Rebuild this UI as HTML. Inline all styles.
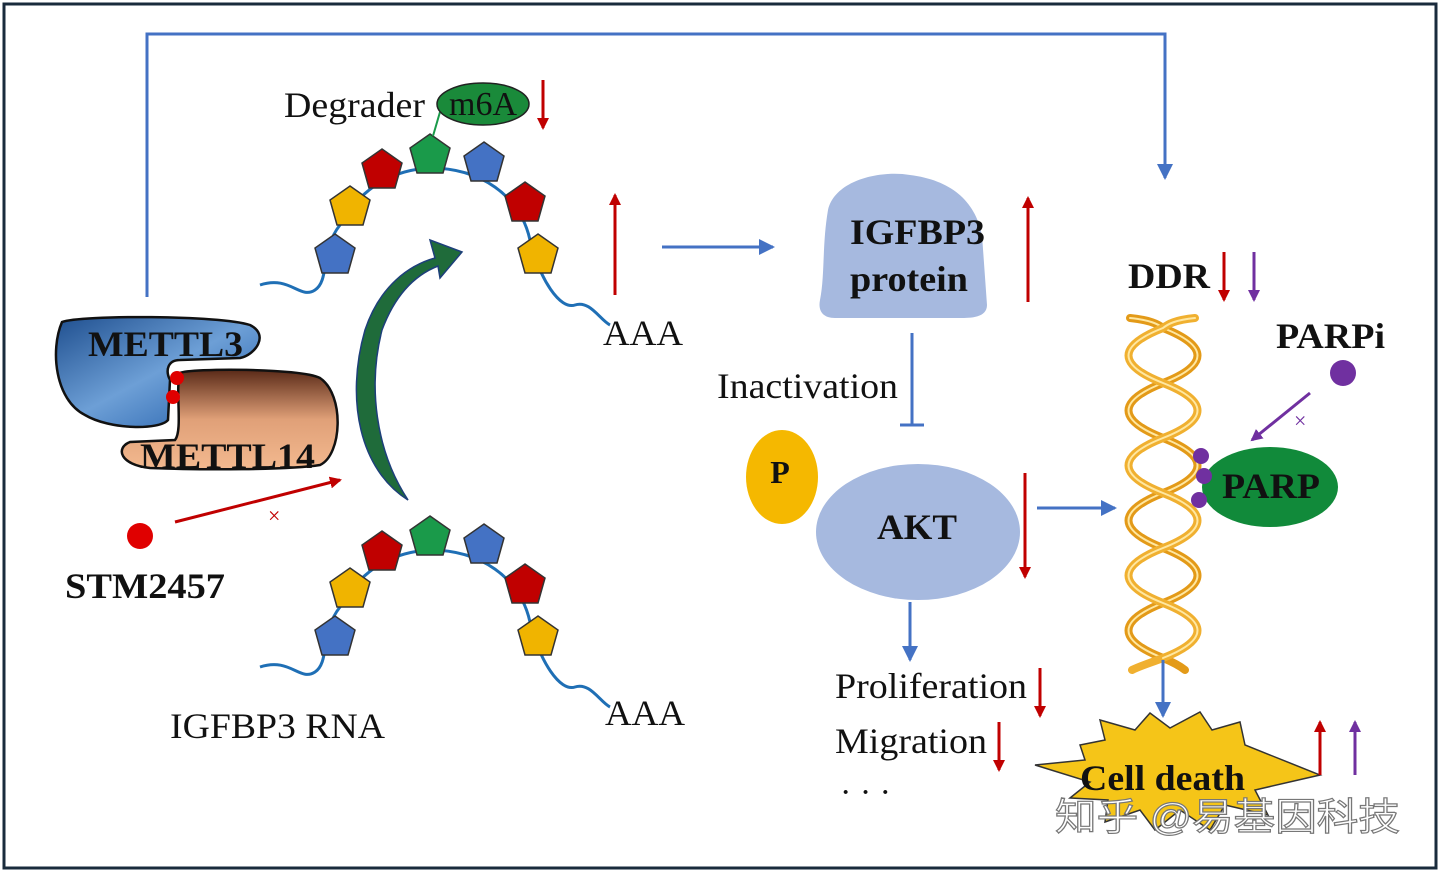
<!DOCTYPE html>
<html><head><meta charset="utf-8"><style>
html,body{margin:0;padding:0;background:#fff;}
svg{display:block}
text{font-family:"Liberation Serif",serif;}
</style></head><body>
<svg width="1440" height="873" viewBox="0 0 1440 873" xmlns="http://www.w3.org/2000/svg">
<defs>
<linearGradient id="g3" x1="0" y1="0" x2="1" y2="1"><stop offset="0" stop-color="#1f4f8f"/><stop offset="0.5" stop-color="#6d9fd6"/><stop offset="1" stop-color="#1d5aa8"/></linearGradient>
<linearGradient id="g14" x1="0" y1="0" x2="0" y2="1"><stop offset="0" stop-color="#5a2a18"/><stop offset="0.5" stop-color="#e0a078"/><stop offset="1" stop-color="#f3b98f"/></linearGradient>
<marker id="ar" markerWidth="12" markerHeight="12" refX="10" refY="6" orient="auto" markerUnits="userSpaceOnUse"><path d="M0,0 L12,6 L0,12 z" fill="#c00000"/></marker>
<marker id="ap" markerWidth="12" markerHeight="12" refX="10" refY="6" orient="auto" markerUnits="userSpaceOnUse"><path d="M0,0 L12,6 L0,12 z" fill="#7030a0"/></marker>
<marker id="ab2" markerWidth="16" markerHeight="16" refX="14" refY="8" orient="auto" markerUnits="userSpaceOnUse"><path d="M0,0 L16,8 L0,16 z" fill="#4472c4"/></marker>
<g id="pent"><polygon points="0,-21 20,-7 13,18 -13,18 -20,-7" stroke="#333" stroke-width="1.5"/></g>
</defs>
<rect x="4" y="4" width="1432" height="864" fill="#fff" stroke="#1a2b3c" stroke-width="3"/>

<polyline points="147,297 147,34 1165,34 1165,178" fill="none" stroke="#4472c4" stroke-width="3" marker-end="url(#ab2)"/>

<path d="M260,285 C290,275 300,300 315,290 C330,280 320,250 340,225 C360,190 390,170 430,168 C480,168 520,195 530,240 C540,280 560,310 575,305 C590,300 600,320 610,325" fill="none" stroke="#1f6fb5" stroke-width="3"/>
<path d="M260,667 C290,657 300,682 315,672 C330,662 320,632 340,607 C360,572 390,552 430,550 C480,550 520,577 530,622 C540,662 560,692 575,687 C590,682 600,702 610,707" fill="none" stroke="#1f6fb5" stroke-width="3"/>
<g>
<use href="#pent" x="335" y="255" fill="#4472c4"/><use href="#pent" x="350" y="207" fill="#f0b400"/><use href="#pent" x="382" y="170" fill="#c00000"/><use href="#pent" x="430" y="155" fill="#1a9a4a"/><use href="#pent" x="484" y="163" fill="#4472c4"/><use href="#pent" x="525" y="203" fill="#c00000"/><use href="#pent" x="538" y="255" fill="#f0b400"/>
<use href="#pent" x="335" y="637" fill="#4472c4"/><use href="#pent" x="350" y="589" fill="#f0b400"/><use href="#pent" x="382" y="552" fill="#c00000"/><use href="#pent" x="430" y="537" fill="#1a9a4a"/><use href="#pent" x="484" y="545" fill="#4472c4"/><use href="#pent" x="525" y="585" fill="#c00000"/><use href="#pent" x="538" y="637" fill="#f0b400"/>
</g>
<line x1="433" y1="136" x2="440" y2="112" stroke="#1a9a4a" stroke-width="2"/>
<ellipse cx="483" cy="104" rx="46" ry="21" fill="#1a8a3a" stroke="#222" stroke-width="1.5"/>
<text x="483" y="115" font-size="34" text-anchor="middle" fill="#111">m6A</text>
<text x="284" y="117" font-size="36" textLength="141" lengthAdjust="spacingAndGlyphs" fill="#111">Degrader</text>
<line x1="543" y1="80" x2="543" y2="128" stroke="#c00000" stroke-width="3" marker-end="url(#ar)"/>
<line x1="615" y1="295" x2="615" y2="195" stroke="#c00000" stroke-width="3" marker-end="url(#ar)"/>
<text x="603" y="345" font-size="36" textLength="80" lengthAdjust="spacingAndGlyphs" fill="#111">AAA</text>
<text x="605" y="725" font-size="36" textLength="80" lengthAdjust="spacingAndGlyphs" fill="#111">AAA</text>
<text x="170" y="738" font-size="36" textLength="215" lengthAdjust="spacingAndGlyphs" fill="#111">IGFBP3 RNA</text>

<path d="M408,500 C360,470 345,400 365,330 C380,285 410,265 435,258 L430,240 L462,252 L440,278 L438,266 C415,275 395,295 382,330 C368,385 375,450 408,500 z" fill="#1f6b3a" stroke="#1d3f7a" stroke-width="1.5"/>

<path d="M62,322 C80,315 220,315 250,325 C270,335 255,355 240,358 L180,360 C168,360 165,370 170,380 L168,420 C160,430 110,430 85,415 C55,400 50,350 62,322 z" fill="url(#g3)" stroke="#111" stroke-width="2.5"/>
<path d="M180,373 C190,368 300,368 320,378 C345,395 342,455 320,465 C290,470 200,470 150,468 C120,465 115,448 130,442 L175,440 C183,430 175,390 180,373 z" fill="url(#g14)" stroke="#111" stroke-width="2.5"/>
<text x="88" y="356" font-size="36" font-weight="bold" textLength="155" lengthAdjust="spacingAndGlyphs" fill="#111">METTL3</text>
<text x="140" y="468" font-size="36" font-weight="bold" textLength="175" lengthAdjust="spacingAndGlyphs" fill="#111">METTL14</text>
<circle cx="177" cy="378" r="7" fill="#e00000"/><circle cx="173" cy="397" r="7" fill="#e00000"/>

<circle cx="140" cy="536" r="13" fill="#e00000"/>
<text x="65" y="598" font-size="36" font-weight="bold" textLength="160" lengthAdjust="spacingAndGlyphs" fill="#111">STM2457</text>
<line x1="175" y1="522" x2="340" y2="480" stroke="#c00000" stroke-width="3" marker-end="url(#ar)"/>
<text x="268" y="523" font-size="22" fill="#c00000">×</text>

<line x1="662" y1="247" x2="773" y2="247" stroke="#4472c4" stroke-width="3" marker-end="url(#ab2)"/>
<path d="M828,210 C835,180 880,170 910,175 C950,180 975,200 982,235 L987,305 C987,318 970,318 960,318 L835,318 C822,318 818,310 820,300 C825,275 822,245 828,210 z" fill="#a6b9df"/>
<text x="850" y="244" font-size="36" font-weight="bold" textLength="135" lengthAdjust="spacingAndGlyphs" fill="#111">IGFBP3</text>
<text x="850" y="291" font-size="36" font-weight="bold" textLength="118" lengthAdjust="spacingAndGlyphs" fill="#111">protein</text>
<line x1="1028" y1="302" x2="1028" y2="198" stroke="#c00000" stroke-width="3" marker-end="url(#ar)"/>

<line x1="912" y1="333" x2="912" y2="425" stroke="#4472c4" stroke-width="3"/>
<line x1="900" y1="425" x2="924" y2="425" stroke="#4472c4" stroke-width="3"/>
<text x="717" y="398" font-size="36" textLength="181" lengthAdjust="spacingAndGlyphs" fill="#111">Inactivation</text>

<ellipse cx="782" cy="477" rx="36" ry="47" fill="#f5b800"/>
<text x="780" y="483" font-size="32" font-weight="bold" text-anchor="middle" fill="#111">P</text>
<ellipse cx="918" cy="532" rx="102" ry="68" fill="#a6b9df"/>
<text x="877" y="539" font-size="36" font-weight="bold" textLength="80" lengthAdjust="spacingAndGlyphs" fill="#111">AKT</text>
<line x1="1025" y1="473" x2="1025" y2="577" stroke="#c00000" stroke-width="3" marker-end="url(#ar)"/>
<line x1="1037" y1="508" x2="1115" y2="508" stroke="#4472c4" stroke-width="3" marker-end="url(#ab2)"/>
<line x1="910" y1="602" x2="910" y2="660" stroke="#4472c4" stroke-width="3" marker-end="url(#ab2)"/>
<text x="835" y="698" font-size="36" textLength="192" lengthAdjust="spacingAndGlyphs" fill="#111">Proliferation</text>
<line x1="1040" y1="668" x2="1040" y2="716" stroke="#c00000" stroke-width="3" marker-end="url(#ar)"/>
<text x="835" y="753" font-size="36" textLength="152" lengthAdjust="spacingAndGlyphs" fill="#111">Migration</text>
<line x1="999" y1="722" x2="999" y2="770" stroke="#c00000" stroke-width="3" marker-end="url(#ar)"/>
<text x="840" y="803" font-size="34" fill="#111">· · ·</text>

<text x="1128" y="288" font-size="36" font-weight="bold" textLength="82" lengthAdjust="spacingAndGlyphs" fill="#111">DDR</text>
<line x1="1224" y1="252" x2="1224" y2="300" stroke="#c00000" stroke-width="3" marker-end="url(#ar)"/>
<line x1="1254" y1="252" x2="1254" y2="300" stroke="#7030a0" stroke-width="3" marker-end="url(#ap)"/>

<g fill="none" stroke-linecap="round">
<path d="M1130,318 C1150,320 1158,324 1163,328 C1209,346 1209,365 1163,383 C1117,401 1117,420 1163,438 C1209,456 1209,475 1163,493 C1117,511 1117,530 1163,548 C1209,566 1209,585 1163,603 C1117,621 1117,640 1163,658 C1175,663 1180,666 1185,670" stroke="#e39a18" stroke-width="8"/>
<path d="M1130,318 C1150,320 1158,324 1163,328 C1209,346 1209,365 1163,383 C1117,401 1117,420 1163,438 C1209,456 1209,475 1163,493 C1117,511 1117,530 1163,548 C1209,566 1209,585 1163,603 C1117,621 1117,640 1163,658" stroke="#ffe7a0" stroke-width="2"/>
<path d="M1195,318 C1175,320 1168,324 1163,328 C1117,346 1117,365 1163,383 C1209,401 1209,420 1163,438 C1117,456 1117,475 1163,493 C1209,511 1209,530 1163,548 C1117,566 1117,585 1163,603 C1209,621 1209,640 1163,658 C1150,663 1140,666 1132,670" stroke="#f0b030" stroke-width="8"/>
<path d="M1195,318 C1175,320 1168,324 1163,328 C1117,346 1117,365 1163,383 C1209,401 1209,420 1163,438 C1117,456 1117,475 1163,493 C1209,511 1209,530 1163,548 C1117,566 1117,585 1163,603 C1209,621 1209,640 1163,658" stroke="#ffe7a0" stroke-width="2"/>
</g>
<text x="1276" y="348" font-size="36" font-weight="bold" textLength="109" lengthAdjust="spacingAndGlyphs" fill="#111">PARPi</text>
<circle cx="1343" cy="373" r="13" fill="#7030a0"/>
<line x1="1310" y1="393" x2="1252" y2="440" stroke="#7030a0" stroke-width="3" marker-end="url(#ap)"/>
<text x="1294" y="428" font-size="22" fill="#7030a0">×</text>
<ellipse cx="1270" cy="487" rx="68" ry="40" fill="#118a3a"/>
<text x="1222" y="498" font-size="36" font-weight="bold" textLength="98" lengthAdjust="spacingAndGlyphs" fill="#111">PARP</text>
<circle cx="1201" cy="456" r="8" fill="#7030a0"/><circle cx="1204" cy="476" r="8" fill="#7030a0"/><circle cx="1199" cy="500" r="8" fill="#7030a0"/>

<line x1="1163" y1="660" x2="1163" y2="716" stroke="#4472c4" stroke-width="3" marker-end="url(#ab2)"/>
<polygon points="1080,745 1105,740 1100,720 1135,730 1150,713 1170,728 1200,712 1212,730 1240,722 1245,745 1320,775 1255,790 1268,815 1225,805 1210,830 1180,810 1155,830 1140,810 1105,822 1108,800 1070,798 1090,782 1035,765 1085,760" fill="#f5c518" stroke="#333" stroke-width="1.5"/>
<text x="1080" y="790" font-size="36" font-weight="bold" textLength="165" lengthAdjust="spacingAndGlyphs" fill="#111">Cell death</text>
<line x1="1320" y1="775" x2="1320" y2="722" stroke="#c00000" stroke-width="3" marker-end="url(#ar)"/>
<line x1="1355" y1="775" x2="1355" y2="722" stroke="#7030a0" stroke-width="3" marker-end="url(#ap)"/>

<text x="1055" y="830" font-size="38" textLength="345" lengthAdjust="spacingAndGlyphs" fill="#fff" stroke="#777" stroke-width="1.2" style="font-family:'Liberation Sans','Noto Sans CJK SC',sans-serif">知乎 @易基因科技</text>
</svg>
</body></html>
